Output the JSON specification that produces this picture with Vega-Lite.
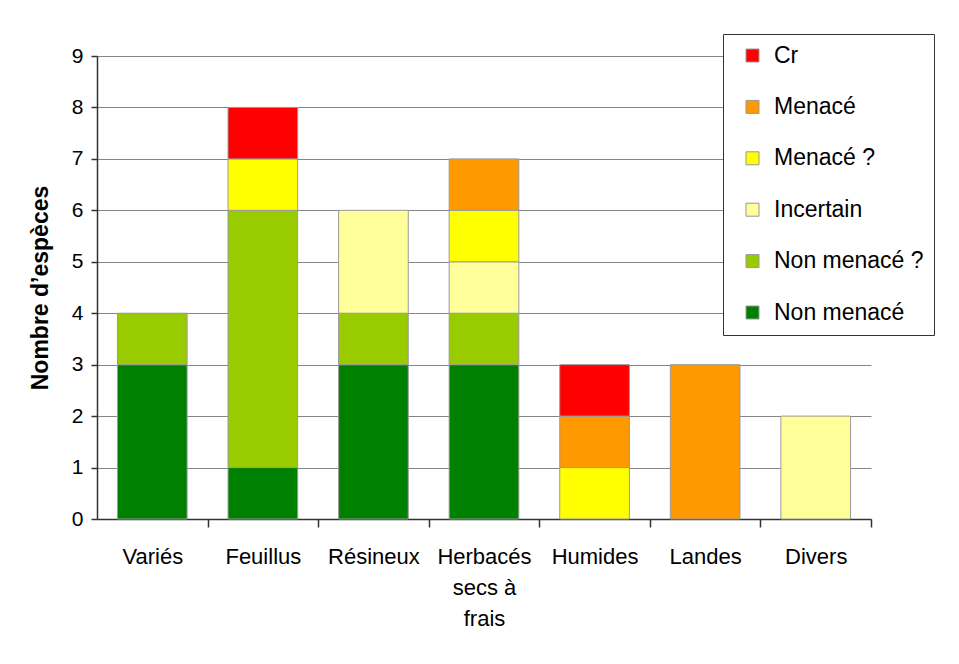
{
  "$schema": "https://vega.github.io/schema/vega-lite/v6.json",
  "width": 774,
  "height": 463,
  "autosize": {"type": "none"},
  "padding": {"left": 97, "top": 56, "right": 88, "bottom": 145},
  "background": "white",
  "config": {
    "view": {"stroke": null},
    "font": "Liberation Sans"
  },
  "data": {
    "values": [
      {"milieu": "Variés", "statut": "Non menacé", "n": 3},
      {"milieu": "Variés", "statut": "Non menacé ?", "n": 1},
      {"milieu": "Feuillus", "statut": "Non menacé", "n": 1},
      {"milieu": "Feuillus", "statut": "Non menacé ?", "n": 5},
      {"milieu": "Feuillus", "statut": "Menacé ?", "n": 1},
      {"milieu": "Feuillus", "statut": "Cr", "n": 1},
      {"milieu": "Résineux", "statut": "Non menacé", "n": 3},
      {"milieu": "Résineux", "statut": "Non menacé ?", "n": 1},
      {"milieu": "Résineux", "statut": "Incertain", "n": 2},
      {"milieu": "Herbacés secs à frais", "statut": "Non menacé", "n": 3},
      {"milieu": "Herbacés secs à frais", "statut": "Non menacé ?", "n": 1},
      {"milieu": "Herbacés secs à frais", "statut": "Incertain", "n": 1},
      {"milieu": "Herbacés secs à frais", "statut": "Menacé ?", "n": 1},
      {"milieu": "Herbacés secs à frais", "statut": "Menacé", "n": 1},
      {"milieu": "Humides", "statut": "Menacé ?", "n": 1},
      {"milieu": "Humides", "statut": "Menacé", "n": 1},
      {"milieu": "Humides", "statut": "Cr", "n": 1},
      {"milieu": "Landes", "statut": "Menacé", "n": 3},
      {"milieu": "Divers", "statut": "Incertain", "n": 2}
    ]
  },
  "transform": [
    {"calculate": "indexof(['Non menacé', 'Non menacé ?', 'Incertain', 'Menacé ?', 'Menacé', 'Cr'], datum.statut)", "as": "rang"}
  ],
  "mark": {"type": "bar", "stroke": "#9a9a9a", "strokeWidth": 1},
  "encoding": {
    "x": {
      "field": "milieu",
      "type": "nominal",
      "sort": ["Variés", "Feuillus", "Résineux", "Herbacés secs à frais", "Humides", "Landes", "Divers"],
      "scale": {"paddingInner": 0.37, "paddingOuter": 0.185},
      "axis": {
        "title": null,
        "labelAngle": 0,
        "labelFontSize": 22,
        "labelColor": "#000",
        "labelPadding": 19,
        "labelLineHeight": 31,
        "labelLimit": 300,
        "labelExpr": "datum.value == 'Herbacés secs à frais' ? ['Herbacés', 'secs à', 'frais'] : datum.value",
        "ticks": true,
        "tickOffset": 55.3,
        "labelOffset": -55.3,
        "tickSize": 8,
        "tickWidth": 1.5,
        "tickColor": "#333",
        "domainColor": "#333",
        "domainWidth": 1.5,
        "grid": false
      }
    },
    "y": {
      "field": "n",
      "type": "quantitative",
      "stack": "zero",
      "scale": {"domain": [0, 9], "nice": false},
      "axis": {
        "title": "Nombre d’espèces",
        "titleFontSize": 23,
        "titleFontWeight": "bold",
        "titleColor": "#000",
        "titlePadding": 19,
        "values": [0, 1, 2, 3, 4, 5, 6, 7, 8, 9],
        "labelFontSize": 21,
        "labelColor": "#000",
        "labelPadding": 8,
        "tickSize": 6,
        "tickWidth": 1.5,
        "tickColor": "#333",
        "domainColor": "#333",
        "domainWidth": 1.5,
        "grid": true,
        "gridColor": "#858585",
        "gridWidth": 1
      }
    },
    "order": {"field": "rang", "type": "quantitative", "sort": "ascending"},
    "color": {
      "field": "statut",
      "type": "nominal",
      "scale": {
        "domain": ["Cr", "Menacé", "Menacé ?", "Incertain", "Non menacé ?", "Non menacé"],
        "range": ["#FF0000", "#FF9900", "#FFFF00", "#FFFF99", "#99CC00", "#008000"]
      },
      "legend": {
        "title": null,
        "orient": "none",
        "legendX": 626,
        "legendY": -22,
        "strokeColor": "#333",
        "fillColor": "white",
        "padding": 10,
        "symbolOffset": 8,
        "symbolType": "square",
        "symbolSize": 169,
        "symbolStrokeColor": "#999",
        "symbolStrokeWidth": 1,
        "labelFontSize": 23,
        "labelColor": "#000",
        "labelOffset": 10,
        "labelLimit": 300,
        "rowPadding": 27.4
      }
    }
  }
}
